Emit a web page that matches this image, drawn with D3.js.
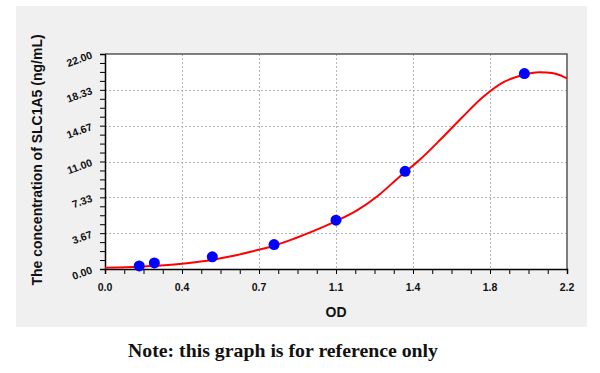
<!DOCTYPE html>
<html>
<head>
<meta charset="utf-8">
<script src="https://cdn.jsdelivr.net/npm/d3@7"></script>
<style>
  body { margin: 0; background: #fff; }
  svg { display: block; }
</style>
</head>
<body>
<svg id="chart" width="600" height="373"></svg>
<script>
// standard points (OD vs concentration)
const stdOD = [0.163, 0.235, 0.511, 0.805, 1.1, 1.429, 1.997];
const stdConc = [0.313, 0.625, 1.25, 2.5, 5, 10, 20];

// fitted curve
const curveOD = [0, 0.1, 0.2, 0.3, 0.4, 0.5, 0.6, 0.7, 0.8, 0.9, 1.0, 1.1, 1.2, 1.3, 1.4, 1.5, 1.6, 1.7, 1.8, 1.9, 2.0, 2.05, 2.1, 2.15, 2.2];
const curveConc = [0.12, 0.18, 0.27, 0.42, 0.62, 0.9, 1.3, 1.8, 2.35, 3.1, 3.95, 4.9, 6.0, 7.5, 9.4, 11.2, 13.3, 15.5, 17.6, 19.15, 19.9, 20.1, 20.1, 19.95, 19.5];

const xTicks = [0, 0.3667, 0.7333, 1.1, 1.4667, 1.8333, 2.2];
const xTickLabels = ['0.0', '0.4', '0.7', '1.1', '1.4', '1.8', '2.2'];
const yTicks = [0, 3.6667, 7.3333, 11, 14.6667, 18.3333, 22];
const yTickLabels = ['0.00', '3.67', '7.33', '11.00', '14.67', '18.33', '22.00'];

const svg = d3.select('#chart');
const plot = { left: 105, top: 54, right: 567, bottom: 269 };
const sans = 'Liberation Sans, Arial, sans-serif';

// grey panel
svg.append('rect')
  .attr('x', 16).attr('y', 6)
  .attr('width', 571).attr('height', 321)
  .attr('fill', '#f0f0f0');

svg.append('rect')
  .attr('x', plot.left).attr('y', plot.top)
  .attr('width', plot.right - plot.left).attr('height', plot.bottom - plot.top)
  .attr('fill', '#fff');

const x = d3.scaleLinear().domain([0, 2.2]).range([plot.left, plot.right]);
const y = d3.scaleLinear().domain([0, 22]).range([plot.bottom, plot.top]);

// dotted grid
const grid = svg.append('g')
  .attr('stroke', '#b4b4b4')
  .attr('stroke-width', 1)
  .attr('stroke-dasharray', '2,2');
grid.selectAll('.vg').data(xTicks.slice(1, -1)).enter()
  .append('line')
  .attr('x1', d => Math.round(x(d)) + 0.5).attr('x2', d => Math.round(x(d)) + 0.5)
  .attr('y1', plot.top).attr('y2', plot.bottom);
grid.selectAll('.hg').data(yTicks.slice(1, -1)).enter()
  .append('line')
  .attr('y1', d => Math.round(y(d)) + 0.5).attr('y2', d => Math.round(y(d)) + 0.5)
  .attr('x1', plot.left).attr('x2', plot.right);

// frame
svg.append('path')
  .attr('d', `M${plot.left},${plot.top}H${plot.right}V${plot.bottom}`)
  .attr('fill', 'none')
  .attr('stroke', '#555')
  .attr('stroke-width', 1.5);

// axes with minor ticks (4 per major)
const xMinor = d3.range(0, 25).map(i => i * 2.2 / 24);
const yMinor = d3.range(0, 25).map(i => i * 22 / 24);

svg.append('g')
  .attr('transform', `translate(0,${plot.bottom})`)
  .call(d3.axisBottom(x).tickValues(xMinor).tickSize(5).tickFormat(''))
  .call(g => g.select('.domain').attr('stroke', '#000').attr('stroke-width', 1.5));

svg.append('g')
  .attr('transform', `translate(${plot.left},0)`)
  .call(d3.axisLeft(y).tickValues(yMinor).tickSize(5).tickFormat(''))
  .call(g => g.select('.domain').attr('stroke', '#000').attr('stroke-width', 1.5));

// tick labels
svg.append('g').selectAll('text')
  .data(xTicks).enter()
  .append('text')
  .attr('x', d => x(d))
  .attr('y', 291)
  .attr('text-anchor', 'middle')
  .attr('font-family', sans)
  .attr('font-weight', 'bold')
  .attr('font-size', 10.5)
  .attr('fill', '#111')
  .text((d, i) => xTickLabels[i]);

svg.append('g').selectAll('text')
  .data(yTicks).enter()
  .append('text')
  .attr('transform', d => `translate(93,${y(d) + 4}) rotate(-20)`)
  .attr('text-anchor', 'end')
  .attr('font-family', sans)
  .attr('font-weight', 'bold')
  .attr('font-size', 10.5)
  .attr('fill', '#111')
  .text((d, i) => yTickLabels[i]);

// fitted curve
const line = d3.line()
  .x((d, i) => x(curveOD[i]))
  .y(d => y(d))
  .curve(d3.curveCatmullRom);

svg.append('path')
  .datum(curveConc)
  .attr('d', line)
  .attr('fill', 'none')
  .attr('stroke', '#ff0000')
  .attr('stroke-width', 2);

// standard points
svg.append('g').selectAll('circle')
  .data(stdConc).enter()
  .append('circle')
  .attr('cx', (d, i) => x(stdOD[i]))
  .attr('cy', d => y(d))
  .attr('r', 5.5)
  .attr('fill', '#0000ff');

// axis titles
svg.append('text')
  .attr('x', 336).attr('y', 317)
  .attr('text-anchor', 'middle')
  .attr('font-family', sans)
  .attr('font-weight', 'bold')
  .attr('font-size', 14)
  .attr('fill', '#111')
  .text('OD');

svg.append('text')
  .attr('transform', 'translate(42,160) rotate(-90)')
  .attr('text-anchor', 'middle')
  .attr('font-family', sans)
  .attr('font-weight', 'bold')
  .attr('font-size', 14)
  .attr('fill', '#111')
  .text('The concentration of SLC1A5 (ng/mL)');

// note below the panel
svg.append('text')
  .attr('x', 283).attr('y', 357)
  .attr('text-anchor', 'middle')
  .attr('font-family', 'Liberation Serif, DejaVu Serif, serif')
  .attr('font-weight', 'bold')
  .attr('font-size', 19)
  .attr('textLength', 310)
  .attr('lengthAdjust', 'spacingAndGlyphs')
  .attr('fill', '#111')
  .text('Note: this graph is for reference only');
</script>
</body>
</html>
